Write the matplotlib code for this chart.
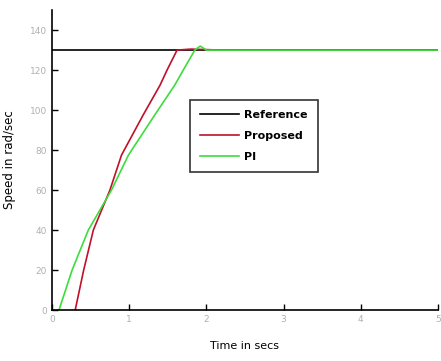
import matplotlib
matplotlib.use('Agg')
import matplotlib.pyplot as plt

# Данные
t_ref = [0.0, 5.0]
w_ref = [130, 130]

t_prop = [0.30, 0.41, 0.535, 0.75, 0.90, 1.18, 1.40, 1.49, 1.62, 1.80, 2.20, 5.00]
w_prop = [0, 20, 40, 60, 77.5, 97.5, 112.5, 120, 130, 130.5, 130, 130]

t_pi = [0.09, 0.26, 0.47, 0.77, 0.99, 1.33, 1.59, 1.70, 1.85, 1.92, 2.00, 5.00]
w_pi = [0, 20, 40, 60, 77.5, 97.5, 112.5, 120, 130, 132, 130, 130]

x_ticks = [0, 1, 2, 3, 4, 5]
y_ticks = [0, 20, 40, 60, 80, 100, 120, 140]

fig = plt.figure(figsize=(4.41, 3.61), dpi=100)
ax = fig.add_axes([0.118, 0.141, 0.875, 0.831])

ax.plot(t_ref, w_ref, color='black', linewidth=1.2, label='Reference')
ax.plot(t_prop, w_prop, color='#c0102a', linewidth=1.2, label='Proposed')
ax.plot(t_pi, w_pi, color='#3ddc3d', linewidth=1.2, label='PI')

ax.set_xlim(0, 5)
ax.set_ylim(0, 150)
ax.set_xticks(x_ticks)
ax.set_yticks(y_ticks)
ax.tick_params(direction='in', length=4, width=1, labelsize=6.5, labelcolor='#b0b0b0')

ax.spines['top'].set_visible(False)
ax.spines['right'].set_visible(False)
ax.spines['left'].set_linewidth(1.2)
ax.spines['bottom'].set_linewidth(1.2)

ax.set_xlabel('Time in secs', fontsize=8, labelpad=12)
ax.set_ylabel('Speed in rad/sec', fontsize=8.5, labelpad=10)

leg = ax.legend(loc='upper left', bbox_to_anchor=(0.357, 0.70),
                prop={'size': 8, 'weight': 'bold'},
                frameon=True, fancybox=False, edgecolor='black', handlelength=3.5,
                handletextpad=0.5, borderpad=0.9, labelspacing=1.0, borderaxespad=0)
leg.get_frame().set_linewidth(1.2)

plt.savefig('out.png', dpi=100)
plt.close()
